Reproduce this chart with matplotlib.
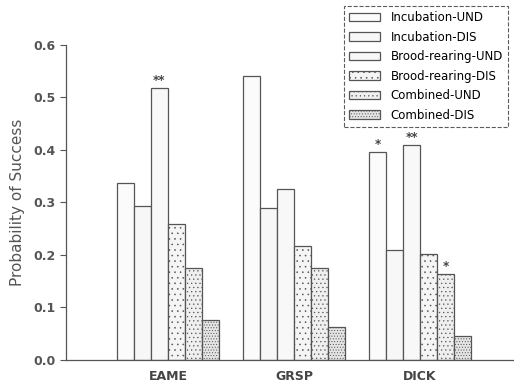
import numpy as np
import matplotlib.pyplot as plt

species = ["EAME", "GRSP", "DICK"]
series = ["Incubation-UND", "Incubation-DIS", "Brood-rearing-UND",
          "Brood-rearing-DIS", "Combined-UND", "Combined-DIS"]
values = [
    [0.337, 0.541, 0.396],   # Incubation-UND
    [0.293, 0.290, 0.210],   # Incubation-DIS
    [0.518, 0.326, 0.410],   # Brood-rearing-UND
    [0.259, 0.217, 0.202],   # Brood-rearing-DIS
    [0.175, 0.175, 0.164],   # Combined-UND
    [0.076, 0.063, 0.046],   # Combined-DIS
]
# significance marks: (series index, species index, label)
marks = [(2, 0, "**"), (0, 2, "*"), (2, 2, "**"), (4, 2, "*")]

faces = ["#fbfbfb", "#f7f7f7", "#f8f8f8", "#f5f5f5", "#efefef", "#e4e4e4"]
hatches = ["", "", "", "...", "....", "......"]

plt.rcParams["hatch.color"] = "#c4c4c4"
plt.rcParams["hatch.linewidth"] = 0.4

fig = plt.figure(figsize=(5.14, 3.87), dpi=100)
ax = fig.add_axes([0.128, 0.070, 0.872, 0.814])

x = np.arange(len(species))
w = 0.135
for i, (name, vals) in enumerate(zip(series, values)):
    ax.bar(x + (i - 2.5) * w, vals, w, color=faces[i], hatch=hatches[i],
           edgecolor="#555555", linewidth=0.9, label=name)

for si, ci, txt in marks:
    ax.text(x[ci] + (si - 2.5) * w, values[si][ci] + 0.002, txt, ha="center",
            va="bottom", fontsize=8.5, color="#444444", fontweight="bold")

ax.set_xlim(-0.81, 2.745)
ax.set_ylim(0, 0.6)
ax.set_yticks(np.arange(0, 0.61, 0.1))
ax.set_yticklabels([f"{v:.1f}" for v in np.arange(0, 0.61, 0.1)])
ax.set_xticks(x)
ax.set_xticklabels(species, fontweight="bold")
ax.tick_params(axis="x", length=0, pad=7, labelsize=9, labelcolor="#444444")
ax.tick_params(axis="y", length=4, width=0.8, labelsize=9, labelcolor="#555555",
               color="#555555")
for lbl in ax.get_yticklabels():
    lbl.set_fontweight("bold")
ax.set_ylabel("Probability of Success", fontsize=11, color="#555555", labelpad=6)
ax.spines["top"].set_visible(False)
ax.spines["right"].set_visible(False)
for s in ("left", "bottom"):
    ax.spines[s].set_color("#555555")
    ax.spines[s].set_linewidth(0.9)

leg = fig.legend(loc="upper right", bbox_to_anchor=(1.0, 1.0), fontsize=8.5,
                 frameon=True, fancybox=False, handlelength=2.6, handleheight=0.7,
                 labelspacing=0.55, borderpad=0.45, handletextpad=0.9)
leg.get_frame().set_edgecolor("#333333")
leg.get_frame().set_linestyle("--")
leg.get_frame().set_linewidth(0.8)

fig.savefig("out.png", dpi=100)
